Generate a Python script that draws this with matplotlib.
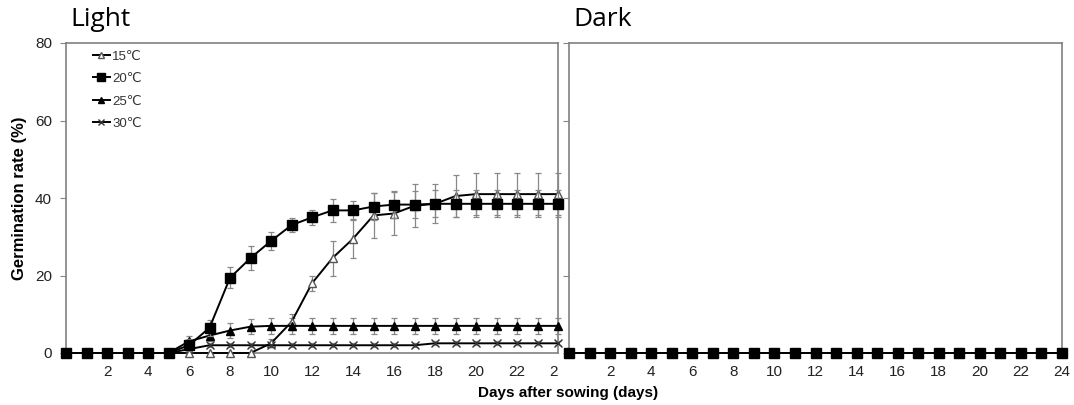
import numpy as np
import matplotlib
matplotlib.use("Agg")
import matplotlib.pyplot as plt
from matplotlib.lines import Line2D
from matplotlib.patches import Rectangle

plt.rcParams['font.family'] = ['Liberation Sans', 'DejaVu Sans']

dias = np.arange(0, 25)

# Luz: porcentaje de germinacion por temperatura
luz_15 = [0, 0, 0, 0, 0, 0, 0, 0, 0, 0, 2.5, 8, 18, 24.5, 29.5, 35.5, 36, 38, 38.5, 40.5, 41, 41, 41, 41, 41]
err_15 = [0, 0, 0, 0, 0, 0, 0, 0, 0, 0, 1, 2, 2, 4.5, 5, 5.8, 5.5, 5.5, 5, 5.5, 5.5, 5.5, 5.5, 5.5, 5.5]
luz_20 = [0, 0, 0, 0, 0, 0, 2, 6.5, 19.4, 24.5, 28.9, 33, 35, 36.8, 36.8, 37.8, 38.3, 38.3, 38.5, 38.5, 38.5, 38.5, 38.5, 38.5, 38.5]
err_20 = [0, 0, 0, 0, 0, 0, 1.5, 2, 2.7, 3, 2.3, 1.8, 2, 3, 2.5, 3.5, 3.5, 3.5, 3.5, 3.5, 3.5, 3.5, 3.5, 3.5, 3.5]
luz_25 = [0, 0, 0, 0, 0, 0, 3, 4.5, 5.8, 6.8, 7, 7, 7, 7, 7, 7, 7, 7, 7, 7, 7, 7, 7, 7, 7]
err_25 = [0, 0, 0, 0, 0, 0, 1.5, 1.5, 2, 2, 2, 2, 2, 2, 2, 2, 2, 2, 2, 2, 2, 2, 2, 2, 2]
luz_30 = [0, 0, 0, 0, 0, 0, 1, 2, 2, 2, 2, 2, 2, 2, 2, 2, 2, 2, 2.5, 2.5, 2.5, 2.5, 2.5, 2.5, 2.5]
err_30 = [0, 0, 0, 0, 0, 0, 0.5, 0.5, 0.5, 0.5, 0.5, 0.5, 0.5, 0.5, 0.5, 0.5, 0.5, 0.5, 0.5, 0.5, 0.5, 0.5, 0.5, 0.5, 0.5]

# Oscuridad: sin germinacion
osc = [0] * 25

etiquetas = ["15℃", "20℃", "25℃", "30℃"]
estilos = [dict(marker="^", mfc="white", mec="#555555", ms=6),
           dict(marker="s", mfc="black", mec="black", ms=7),
           dict(marker="^", mfc="black", mec="black", ms=6),
           dict(marker="x", mfc="black", mec="#333333", ms=6)]

fig = plt.figure(figsize=(10.74, 4.05), dpi=100)
ax1 = fig.add_axes([66/1074, 52/405, 492/1074, 310/405])
ax2 = fig.add_axes([569/1074, 52/405, 493/1074, 310/405])

series = [(luz_15, err_15), (luz_20, err_20), (luz_25, err_25), (luz_30, err_30)]
orden = [0, 2, 3, 1]
for i in orden:
    y, e = series[i]
    ax1.errorbar(dias, y, yerr=e, color="black", lw=1.4, ecolor="#888888",
                 elinewidth=0.9, capsize=2, capthick=0.9,
                 clip_on=False, zorder=3 + (i == 1), **estilos[i])

for i in orden:
    ax2.plot(dias, osc, color="black", lw=1.4, clip_on=False,
             zorder=3 + (i == 1), **estilos[i])

for ax in (ax1, ax2):
    ax.set_xlim(0, 24)
    ax.set_ylim(0, 80)
    ax.set_xticks(range(2, 25, 2))
    ax.set_yticks(range(0, 81, 20))
    ax.tick_params(axis="x", length=0, pad=9, labelsize=11, colors="#222222")
    ax.tick_params(axis="y", length=4, width=0.8, pad=6, labelsize=11,
                   color="#888888", labelcolor="#222222")
    for s in ax.spines.values():
        s.set_color("#808080")
        s.set_linewidth(1.2)

ax2.set_yticklabels([])

# la etiqueta 24 del panel izquierdo queda tapada por el panel derecho
fig.add_artist(Rectangle((558/1074, 1 - 385/405), 10/1074, 25/405,
                         transform=fig.transFigure, fc="white", ec="none", zorder=5))

manijas = [Line2D([], [], color="black", lw=1.4, **st) for st in estilos]
ax1.legend(manijas, etiquetas, loc="upper left",
           bbox_to_anchor=(0.03, 1.015), frameon=False, fontsize=9.5,
           handlelength=1.3, handletextpad=0.2, labelspacing=0.78,
           markerscale=0.8, labelcolor="#333333")

ax1.set_ylabel("Germination rate (%)", fontsize=12, fontweight="bold", labelpad=6)
fig.text(568/1074, 1 - 393/405, "Days after sowing (days)", ha="center",
         va="center", fontsize=11, fontweight="bold")

fig.text(70/1074, 1 - 20/405, "Light", fontsize=19, family="Open Sans",
         va="center", ha="left")
fig.text(573/1074, 1 - 20/405, "Dark", fontsize=19, family="Open Sans",
         va="center", ha="left")

plt.savefig("out.png", dpi=100)
